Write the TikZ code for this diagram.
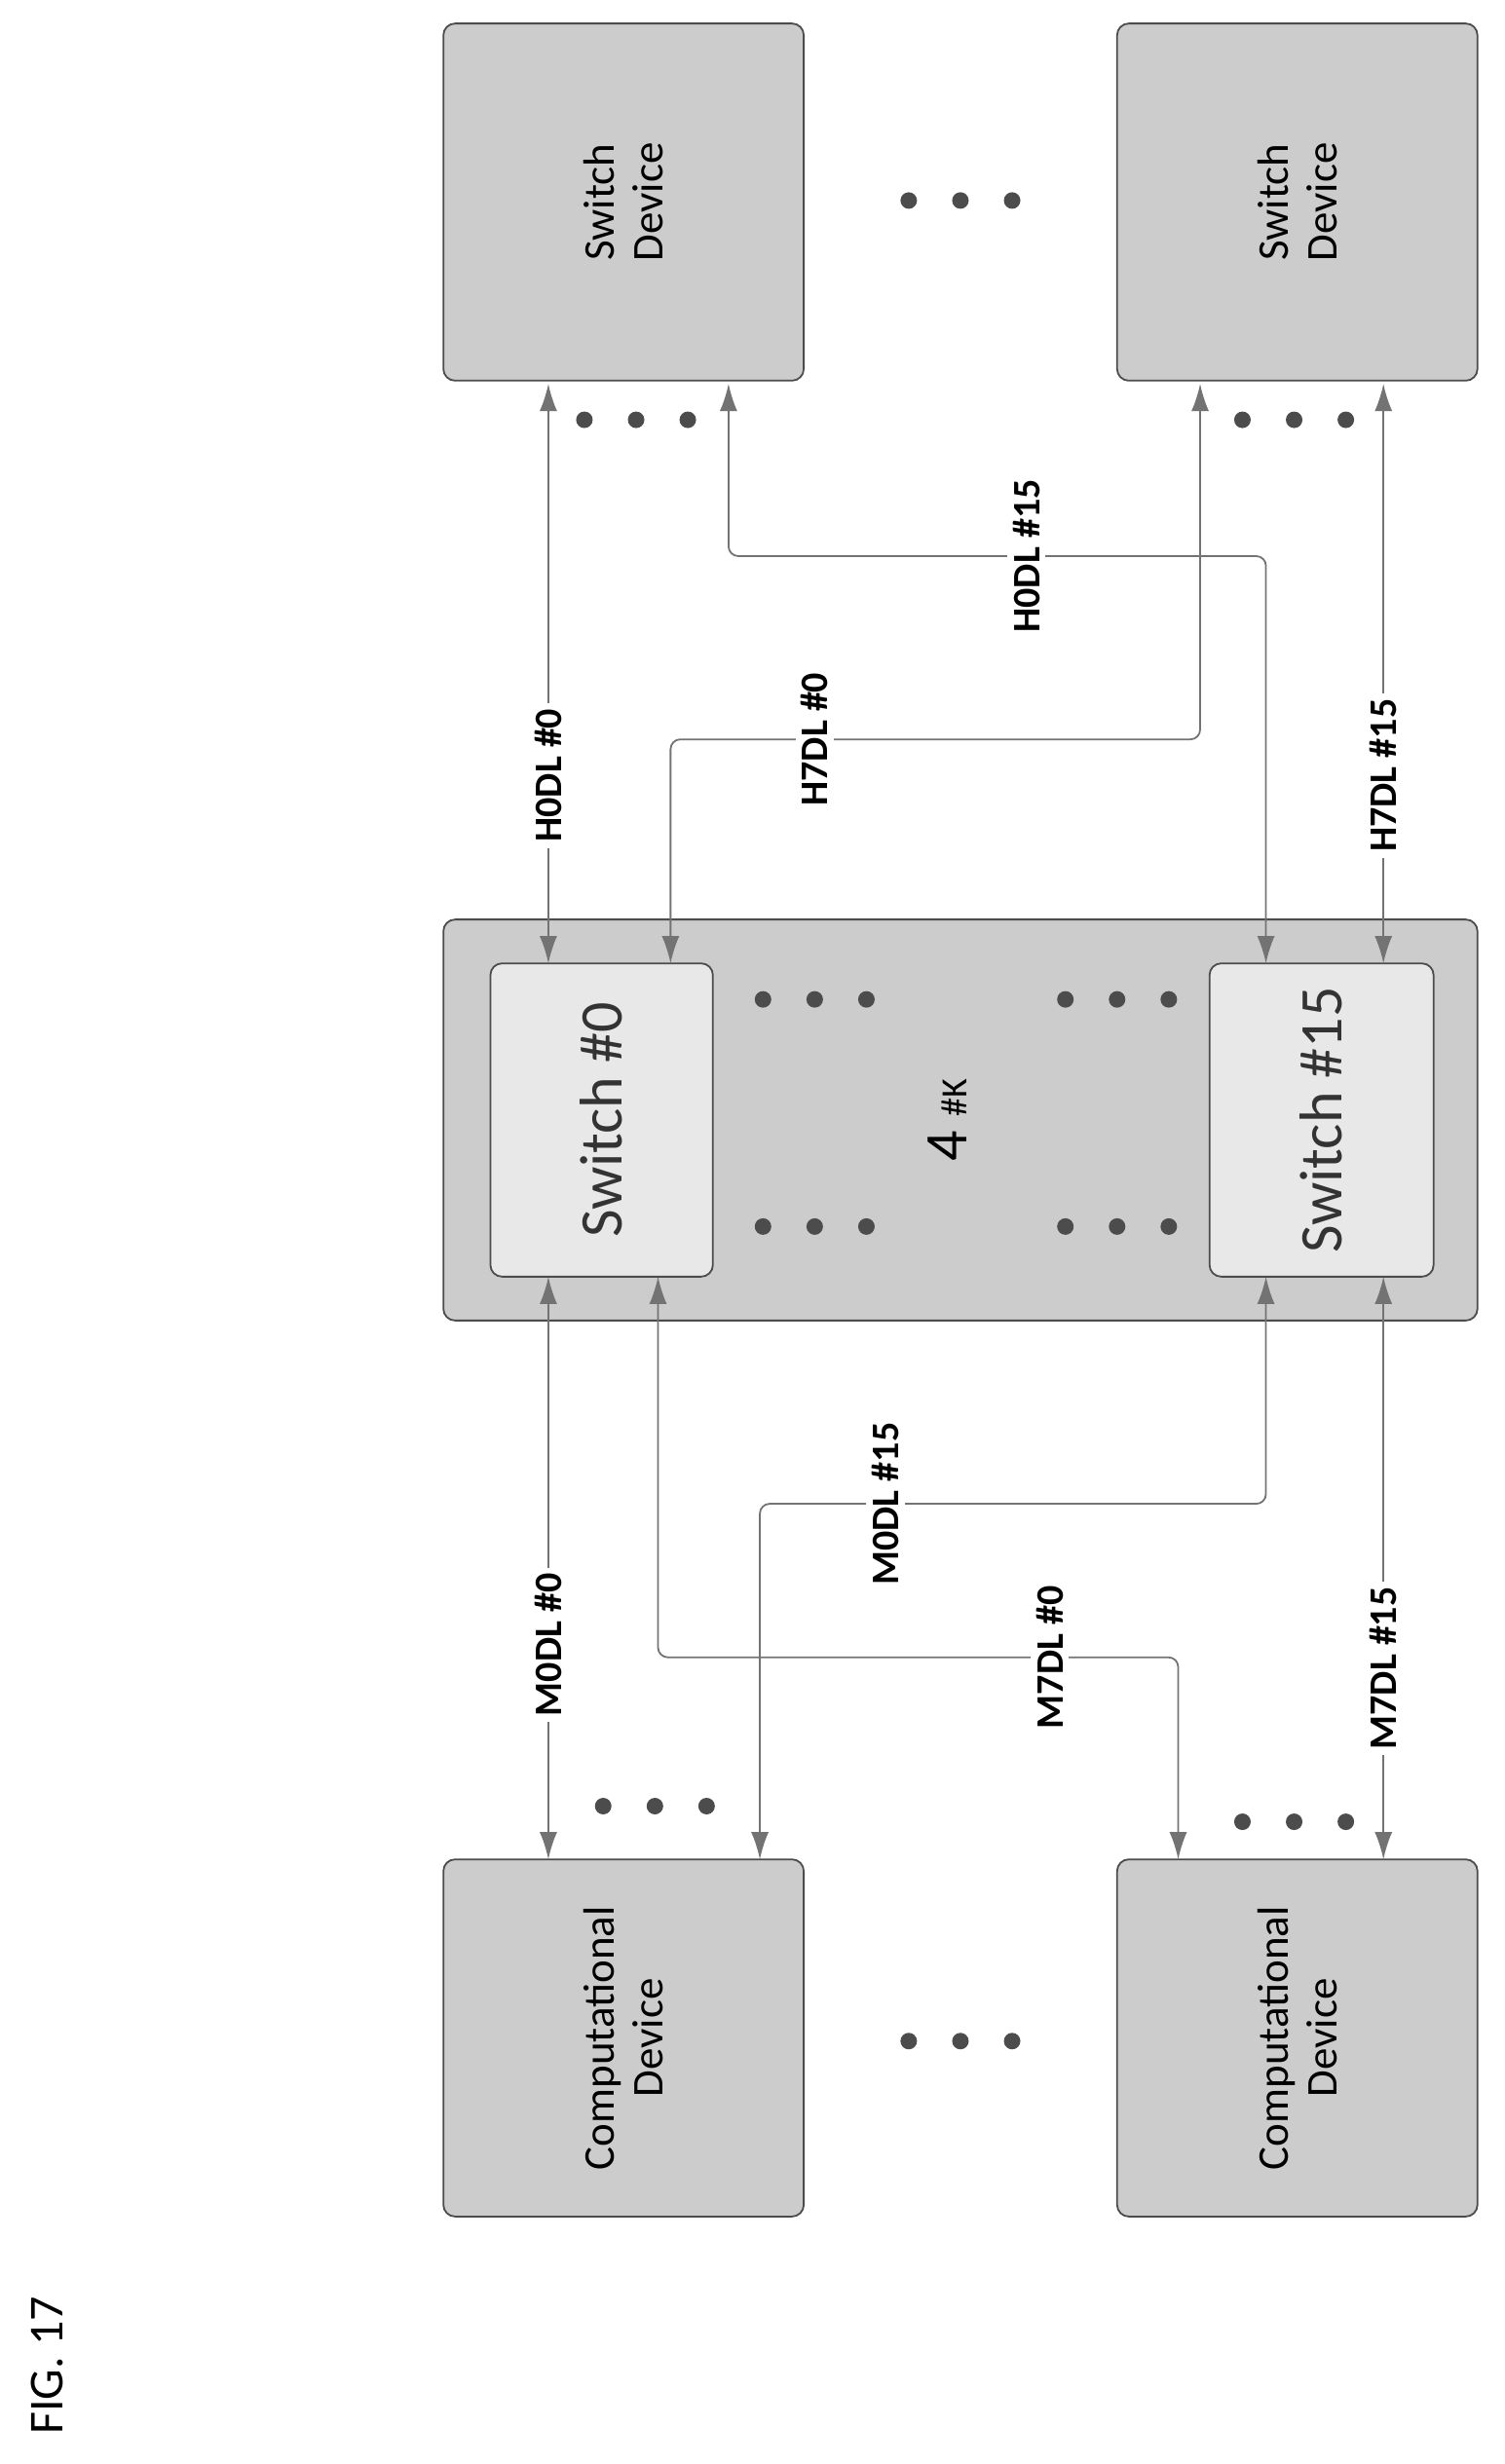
\documentclass[tikz,border=0pt]{standalone}
\usepackage{fontspec}
\setmainfont{Carlito}
\usetikzlibrary{arrows.meta}
\begin{document}
\begin{tikzpicture}[x=1.6083pt,y=-1.6083pt,
 box/.style={draw=black!70,line width=1.8pt,fill=black!20,rounded corners=12pt},
 inner/.style={draw=black!70,line width=1.8pt,fill=black!9,rounded corners=12pt},
 link/.style={draw=black!55,line width=1.8pt,{Latex[length=28pt,width=18pt]}-{Latex[length=28pt,width=18pt]},rounded corners=10pt},
 lbl/.style={fill=white,rotate=90,font=\bfseries\fontsize{40}{42}\selectfont,inner sep=6pt},
 dev/.style={rotate=90,align=center,font=\fontsize{45}{50}\selectfont},
 dot/.style={circle,fill=black!70,minimum size=17pt,inner sep=0pt}]
\useasboundingbox (0,0) rectangle (960,1573);
% switch devices
\draw[box] (283,15) rectangle (513,243);
\draw[box] (713,15) rectangle (943,243);
\node[dev] (sd1) at (398,129) {Switch\\Device};
\node[dev] (sd2) at (828,129) {Switch\\Device};
% comp devices
\draw[box] (283,1187) rectangle (513,1415);
\draw[box] (713,1187) rectangle (943,1415);
\node[dev] (cd1) at (398,1301) {Computational\\Device};
\node[dev] (cd2) at (828,1301) {Computational\\Device};
% central
\draw[box] (283,587) rectangle (943,843);
\draw[inner] (313,615) rectangle (455,815);
\draw[inner] (772,615) rectangle (915,815);
\node[rotate=90,font=\fontsize{62}{64}\selectfont,text=black!80] (s0) at (384,715) {Switch \#0};
\node[rotate=90,font=\fontsize{62}{64}\selectfont,text=black!80] (s15) at (843,715) {Switch \#15};
\node[rotate=90,font=\fontsize{62}{64}\selectfont] (k) at (605,715) {4 {\fontsize{38}{40}\selectfont\#K}};
% dots
\foreach \x in {0,33,66}{
 \node[dot] at (580+\x,128) {};
 \node[dot] at (580+\x,1303) {};
 \node[dot] at (373+\x,268) {};
 \node[dot] at (793+\x,268) {};
 \node[dot] at (385+\x,1153) {};
 \node[dot] at (793+\x,1163) {};
 \node[dot] at (487+\x,638) {};
 \node[dot] at (487+\x,783) {};
 \node[dot] at (680+\x,638) {};
 \node[dot] at (680+\x,783) {};
}
% top links
\draw[link] (350,245) -- (350,615);
\node[lbl] (h00) at (350,495) {H0DL \#0};
\draw[link] (465,245) -- (465,355) -- (808,355) -- (808,615);
\node[lbl] (h015) at (655,355) {H0DL \#15};
\draw[link] (428,615) -- (428,472) -- (766,472) -- (766,245);
\node[lbl] (h70) at (520,472) {H7DL \#0};
\draw[link] (883,245) -- (883,615);
\node[lbl] (h715) at (883,495) {H7DL \#15};
% bottom links
\draw[link] (350,815) -- (350,1187);
\node[lbl] (m00) at (350,1050) {M0DL \#0};
\draw[link] (808,815) -- (808,960) -- (485,960) -- (485,1187);
\node[lbl] (m015) at (565,960) {M0DL \#15};
\draw[link] (420,815) -- (420,1058) -- (752,1058) -- (752,1187);
\node[lbl] (m70) at (670,1058) {M7DL \#0};
\draw[link] (883,815) -- (883,1187);
\node[lbl] (m715) at (883,1065) {M7DL \#15};
\node[rotate=90,font=\fontsize{50}{52}\selectfont] (fig) at (30,1510) {FIG. 17};
\end{tikzpicture}
\end{document}
